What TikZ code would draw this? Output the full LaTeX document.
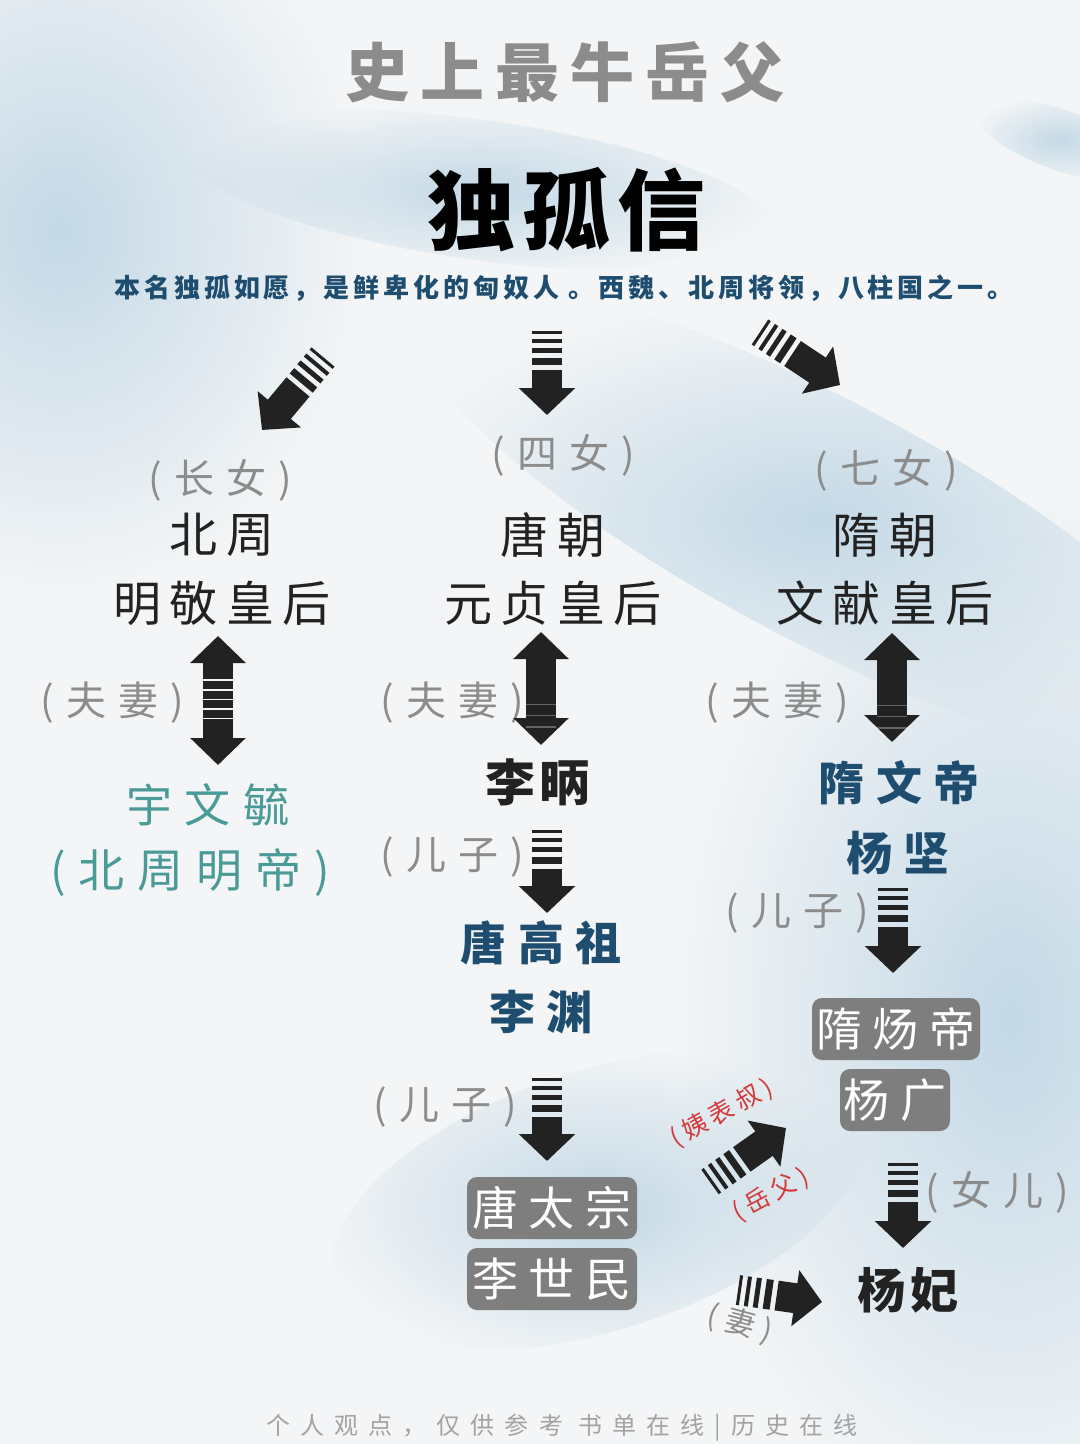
\documentclass[tikz,border=0pt]{standalone}
\usepackage{fontspec}
\setmainfont{Noto Sans CJK SC}
\usepackage{tikz}
\usetikzlibrary{positioning,arrows.meta,calc,fadings}

\definecolor{fondo}{HTML}{F3F5F6}
\definecolor{nube}{HTML}{BCD4E4}
\definecolor{gris}{HTML}{8C8C8C}
\definecolor{azul}{HTML}{1E4D70}
\definecolor{verdeazul}{HTML}{4A9A97}
\definecolor{caja}{HTML}{7E7E7E}
\definecolor{rojo}{HTML}{D43A3A}
\definecolor{tinta}{HTML}{222222}

\tikzfading[name=borrosa, inner color=transparent!15, outer color=transparent!100]

\begin{document}
\begin{tikzpicture}[x=0.5pt, y=-0.5pt,
    titulo/.style={text=gris, font=\fontsize{32}{36}\selectfont\bfseries\addfontfeature{LetterSpace=17}},
    principal/.style={text=black, font=\fontsize{44}{48}\selectfont\bfseries\addfontfeature{LetterSpace=8}},
    nota/.style={text=azul, font=\fontsize{13}{15}\selectfont\bfseries\addfontfeature{LetterSpace=15}},
    etiq/.style={text=gris, font=\fontsize{20}{24}\selectfont\addfontfeature{LetterSpace=30}},
    nombre/.style={text=tinta, font=\fontsize{24}{28}\selectfont\addfontfeature{LetterSpace=18}},
    nombreazul/.style={text=azul, font=\fontsize{23}{27}\selectfont\bfseries\addfontfeature{LetterSpace=25}},
    nombreverde/.style={text=verdeazul, font=\fontsize{23}{27}\selectfont\addfontfeature{LetterSpace=28}},
    cajagris/.style={fill=caja, text=white, rounded corners=5pt, inner sep=0pt,
        minimum height=31pt, font=\fontsize{23}{27}\selectfont\addfontfeature{LetterSpace=22}},
    rojito/.style={text=rojo, inner sep=0pt, font=\fontsize{12.5}{14}\selectfont\addfontfeature{LetterSpace=20}},
    pie/.style={text=gris!80, font=\fontsize{12}{14}\selectfont\addfontfeature{LetterSpace=42}},
    flecha/.style={draw=tinta, line width=15pt, -{Triangle[width=27.5pt,length=13.5pt]},
        dash pattern=on 1.5pt off 2.5pt on 2pt off 2.5pt on 2.5pt off 2.5pt on 3.5pt off 2.5pt on 300pt off 1pt},
    dflecha/.style={draw=tinta, line width=15pt,
        {Triangle[width=27pt,length=13.5pt]}-{Triangle[width=27pt,length=13.5pt]}},
    rayas/.style={dash pattern=on 9pt off 0.8pt on 4pt off 0.8pt on 4pt off 0.8pt on 4pt off 0.8pt on 4pt off 0.8pt on 300pt off 1pt},
    rayasclaras/.style={draw=white, opacity=0.3, line width=15pt,
        dash pattern=on 0pt off 36pt on 0.6pt off 5pt on 0.6pt off 5pt on 0.6pt off 300pt}
]
    % Fondo
    \fill[fondo] (0,0) rectangle (1080,1444);
    \useasboundingbox (0,0) rectangle (1080,1444);
    \fill[nube, path fading=borrosa] (60,230) ellipse [x radius=300, y radius=360];
    \fill[nube, path fading=borrosa, rotate around={-8:(480,190)}] (480,190) ellipse [x radius=300, y radius=70];
    \fill[nube, path fading=borrosa, rotate around={-28:(820,520)}] (820,520) ellipse [x radius=460, y radius=120];
    \fill[nube, path fading=borrosa] (1010,1020) ellipse [x radius=330, y radius=520];
    \fill[nube, path fading=borrosa, rotate around={18:(600,1200)}] (600,1200) ellipse [x radius=280, y radius=130];
    \fill[nube, path fading=borrosa, rotate around={-20:(1060,140)}] (1060,140) ellipse [x radius=90, y radius=30];

    % Definición de los nodos
    \node[titulo] (T) at (565,72) {史上最牛岳父};
    \node[principal] (D) at (567,210) {独孤信};
    \node[nota] (N) at (564,288) {本名独孤如愿，是鲜卑化的匈奴人 。西魏、北周将领，八柱国之一。};

    % Columna izquierda
    \node[etiq] (A0) at (220,480) {(长女)};
    \node[nombre] (A1) at (222,535) {北周};
    \node[nombre] (A2) at (222,603) {明敬皇后};
    \node[etiq] (A3) at (112,703) {(夫妻)};
    \node[nombreverde] (A4) at (208,805) {宇文毓};
    \node[nombreverde] (A5) at (190,873) {(北周明帝)};

    % Columna central
    \node[etiq] (B0) at (563,455) {(四女)};
    \node[nombre] (B1) at (553,535) {唐朝};
    \node[nombre] (B2) at (553,603) {元贞皇后};
    \node[etiq] (B3) at (452,703) {(夫妻)};
    \node[nombre, font=\fontsize{25}{29}\selectfont\bfseries\addfontfeature{LetterSpace=8}] (B4) at (537,782) {李昞};
    \node[etiq] (B5) at (452,857) {(儿子)};
    \node[nombreazul] (B6) at (541,943) {唐高祖};
    \node[nombreazul] (B7) at (541,1012) {李渊};
    \node[etiq] (B8) at (445,1107) {(儿子)};
    \node[cajagris, minimum width=85pt] (B9) at (552,1208) {唐太宗};
    \node[cajagris, minimum width=85pt] (B10) at (552,1279) {李世民};

    % Columna derecha
    \node[etiq] (C0) at (886,470) {(七女)};
    \node[nombre] (C1) at (885,535) {隋朝};
    \node[nombre] (C2) at (885,603) {文献皇后};
    \node[etiq] (C3) at (777,703) {(夫妻)};
    \node[nombreazul] (C4) at (899,783) {隋文帝};
    \node[nombreazul] (C5) at (898,853) {杨坚};
    \node[etiq] (C6) at (797,913) {(儿子)};
    \node[cajagris, minimum width=84pt] (C7) at (896,1029) {隋炀帝};
    \node[cajagris, minimum width=55pt] (C8) at (895,1100) {杨广};
    \node[etiq] (C9) at (997,1192) {(女儿)};
    \node[nombre, font=\fontsize{24}{28}\selectfont\bfseries\addfontfeature{LetterSpace=12}] (C10) at (908,1290) {杨妃};
    \node[rojito, rotate=29] (R1) at (722,1113) {(姨表叔)};
    \node[rojito, rotate=28] (R2) at (771,1195) {(岳父)};
    \node[etiq, inner sep=0pt, font=\fontsize{15}{17}\selectfont\addfontfeature{LetterSpace=25}, rotate=-15] (E1) at (740,1324) {(妻)};

    % Pie
    \node[pie] (P) at (562,1428) {个人观点，仅供参考 书单在线|历史在线};

    % Extremos de las flechas
    \coordinate (fa1) at (323,357);  \coordinate (fa2) at (262,430);
    \coordinate (fb1) at (547,331);  \coordinate (fb2) at (547,415);
    \coordinate (fc1) at (760,332);  \coordinate (fc2) at (840,385);
    \coordinate (da1) at (218,636);  \coordinate (da2) at (218,765);
    \coordinate (db1) at (541,632);  \coordinate (db2) at (541,745);
    \coordinate (dc1) at (892,633);  \coordinate (dc2) at (892,742);
    \coordinate (hb1) at (547,830);  \coordinate (hb2) at (547,913);
    \coordinate (hb3) at (547,1078); \coordinate (hb4) at (547,1161);
    \coordinate (hc1) at (893,888);  \coordinate (hc2) at (893,973);
    \coordinate (hc3) at (903,1163); \coordinate (hc4) at (903,1248);
    \coordinate (ra1) at (710,1182); \coordinate (ra2) at (786,1128);
    \coordinate (ea1) at (738,1290); \coordinate (ea2) at (822,1302);

    % Definición de las flechas
    \draw[flecha] (fa1) -- (fa2);
    \draw[flecha] (fb1) -- (fb2);
    \draw[flecha] (fc1) -- (fc2);
    \draw[dflecha, rayas] (da1) -- (da2);
    \draw[dflecha] (db1) -- (db2);
    \draw[rayasclaras] (db1) -- (db2);
    \draw[dflecha] (dc1) -- (dc2);
    \draw[rayasclaras] (dc1) -- (dc2);
    \draw[flecha] (hb1) -- (hb2);
    \draw[flecha] (hb3) -- (hb4);
    \draw[flecha] (hc1) -- (hc2);
    \draw[flecha] (hc3) -- (hc4);
    \draw[flecha] (ra1) -- (ra2);
    \draw[flecha] (ea1) -- (ea2);
\end{tikzpicture}
\end{document}
